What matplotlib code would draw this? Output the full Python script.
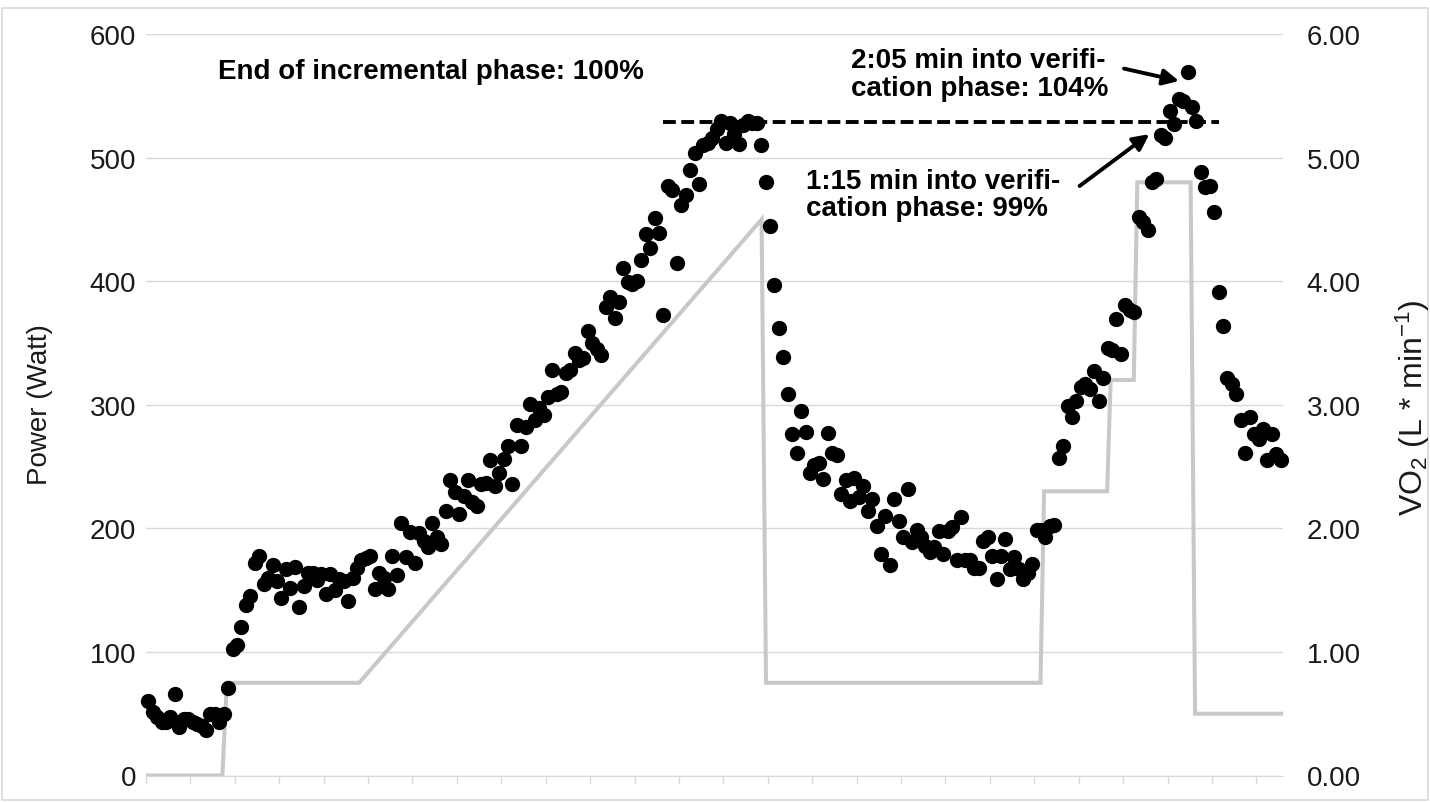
import numpy as np
import matplotlib
matplotlib.use('Agg')
from matplotlib import pyplot as plt
from matplotlib.patches import Rectangle

plt.rcParams['font.family'] = ['Liberation Sans', 'DejaVu Sans']
plt.rcParams['mathtext.default'] = 'regular'

# VO2 (L/min), one value per 5-s sample
vo2 = [
    0.60, 0.51, 0.47, 0.43, 0.43, 0.47, 0.66, 0.39, 0.46, 0.46, 0.43, 0.42, 0.40, 0.37, 0.50, 0.50, 0.43, 0.50,
    0.71, 1.02, 1.06, 1.20, 1.38, 1.45, 1.72, 1.78,
    1.55, 1.60, 1.70, 1.57, 1.44, 1.67, 1.52, 1.69, 1.36,
    1.53, 1.64, 1.64, 1.58, 1.63, 1.47, 1.63, 1.50, 1.59, 1.57, 1.41, 1.60, 1.68, 1.74, 1.76, 1.78,
    1.51, 1.64, 1.60, 1.51, 1.78, 1.62, 2.04, 1.77, 1.97, 1.72, 1.96, 1.90, 1.85, 2.04, 1.93, 1.87,
    2.14, 2.39, 2.29, 2.12, 2.26, 2.39, 2.21, 2.18, 2.36, 2.37, 2.55, 2.34, 2.45, 2.56, 2.67, 2.36,
    2.84, 2.67, 2.82, 3.01, 2.88, 2.97, 2.92, 3.06, 3.28, 3.09, 3.10, 3.26, 3.28, 3.42, 3.36, 3.38, 3.60, 3.50,
    3.45, 3.40, 3.79, 3.87, 3.70, 3.83, 4.11, 3.99, 3.98, 4.00, 4.17, 4.38, 4.27, 4.51, 4.39, 3.73,
    4.77, 4.74, 4.15, 4.62, 4.70, 4.90, 5.04, 4.79, 5.10, 5.12, 5.16, 5.23, 5.30, 5.12, 5.28, 5.19,
    5.11, 5.26, 5.30, 5.28, 5.28, 5.10,
    4.80, 4.45, 3.97, 3.62, 3.39, 3.09,
    2.76, 2.61, 2.95, 2.78, 2.45, 2.51, 2.53, 2.40, 2.77, 2.61, 2.59, 2.28, 2.39, 2.22, 2.41, 2.25,
    2.34, 2.14, 2.24, 2.02, 1.79, 2.10, 1.70, 2.24, 2.06, 1.93, 2.32, 1.89, 1.99, 1.93, 1.86, 1.81,
    1.85, 1.98, 1.79, 1.98, 2.01, 1.74, 2.09, 1.74, 1.74, 1.68, 1.68, 1.90, 1.93, 1.78, 1.59, 1.78,
    1.91, 1.67, 1.77, 1.67, 1.59, 1.64, 1.71, 1.99, 1.99, 1.93, 2.02,
    2.03, 2.57, 2.67, 2.99, 2.90, 3.03, 3.14, 3.17, 3.13, 3.27, 3.03, 3.22, 3.46, 3.44, 3.69, 3.41,
    3.81, 3.77, 3.75, 4.52, 4.48, 4.41, 4.80, 4.83, 5.18, 5.16, 5.38, 5.27, 5.47, 5.46, 5.69, 5.41,
    5.30, 4.88, 4.76, 4.77, 4.56, 3.91, 3.64, 3.22, 3.17, 3.09, 2.88, 2.61, 2.90, 2.76, 2.72, 2.80,
    2.55, 2.76, 2.60, 2.55,
]
sample_s = 5
vo2_time = np.arange(len(vo2)) * sample_s + sample_s / 2

# ergometer power (W): corner points of the protocol
power_time = [0, 86, 91, 240, 693, 698, 1007, 1011, 1082, 1086, 1112, 1116, 1176, 1181, 1280]
power_watt = [0, 0, 75, 75, 450, 75, 75, 230, 230, 320, 320, 480, 480, 50, 50]

vo2_peak_incremental = 5.29
peak_line_span = (582, 1208)

t_end = 1280
grid_c = '#d9d9d9'
txt_c = '#1a1a1a'
fs = 20

fig = plt.figure(figsize=(14.3, 8.03), dpi=100)
ax = fig.add_axes([146 / 1430, 26.5 / 803, 1137 / 1430, 741.5 / 803])
ax2 = ax.twinx()

ax.plot(power_time, power_watt, color='#c8c8c8', lw=2.9, solid_joinstyle='miter')
ax.set_xlim(0, t_end)
ax.set_ylim(0, 600)
ax.set_yticks(range(0, 601, 100))
ax.set_xticks(np.arange(0, t_end, 50))
ax.tick_params(axis='x', length=6, width=1, color=grid_c, labelbottom=False)
ax.tick_params(axis='y', length=0, pad=7, labelsize=fs, labelcolor=txt_c)
ax.grid(axis='y', color=grid_c, lw=1)
ax.set_axisbelow(True)
for side in ['left', 'right', 'top']:
    ax.spines[side].set_visible(False)
    ax2.spines[side].set_visible(False)
ax.spines['bottom'].set_color(grid_c)
ax2.spines['bottom'].set_visible(False)

ax2.plot(vo2_time, vo2, 'o', color='black', ms=10, mec='black', clip_on=False)
ax2.set_ylim(0, 6)
ax2.set_yticks(np.arange(0, 6.01, 1))
ax2.set_yticklabels([f'{v:.2f}' for v in np.arange(0, 6.01, 1)])
ax2.tick_params(axis='y', length=0, pad=17, labelsize=fs, labelcolor=txt_c)

ax2.plot(peak_line_span, [vo2_peak_incremental] * 2, color='black', lw=2.8, dashes=(3.3, 1.4))

ax2.text(81, 5.70, 'End of incremental phase: 100%', fontsize=fs, fontweight='bold',
         ha='left', va='center', color='black')
ax2.text(794, 5.675, '2:05 min into verifi-\ncation phase: 104%', fontsize=fs,
         fontweight='bold', ha='left', va='center', linespacing=1.08, color='black')
ax2.text(742.5, 4.70, '1:15 min into verifi-\ncation phase: 99%', fontsize=fs,
         fontweight='bold', ha='left', va='center', linespacing=1.08, color='black')

arrow = dict(arrowstyle='-|>', color='black', lw=2.8, mutation_scale=24, shrinkA=0, shrinkB=0)
ax2.annotate('', xy=(1163, 5.62), xytext=(1101, 5.72), arrowprops=arrow)
ax2.annotate('', xy=(1129.5, 5.19), xytext=(1051, 4.77), arrowprops=arrow)

fig.text(40 / 1430, 1 - 405 / 803, 'Power (Watt)', rotation=90, fontsize=fs,
         ha='center', va='center', color=txt_c)
fig.text(1413 / 1430, 1 - 408 / 803, 'VO$_2$ (L * min$^{-1}$)', rotation=90, fontsize=23,
         ha='center', va='center', color=txt_c)

# light frame round the whole chart area
fig.patches.append(Rectangle((1.5 / 1430, 2 / 803), 1426.5 / 1430, 792 / 803,
                             transform=fig.transFigure, fill=False, ec=grid_c, lw=1.2))

fig.savefig('out.png', dpi=100)
